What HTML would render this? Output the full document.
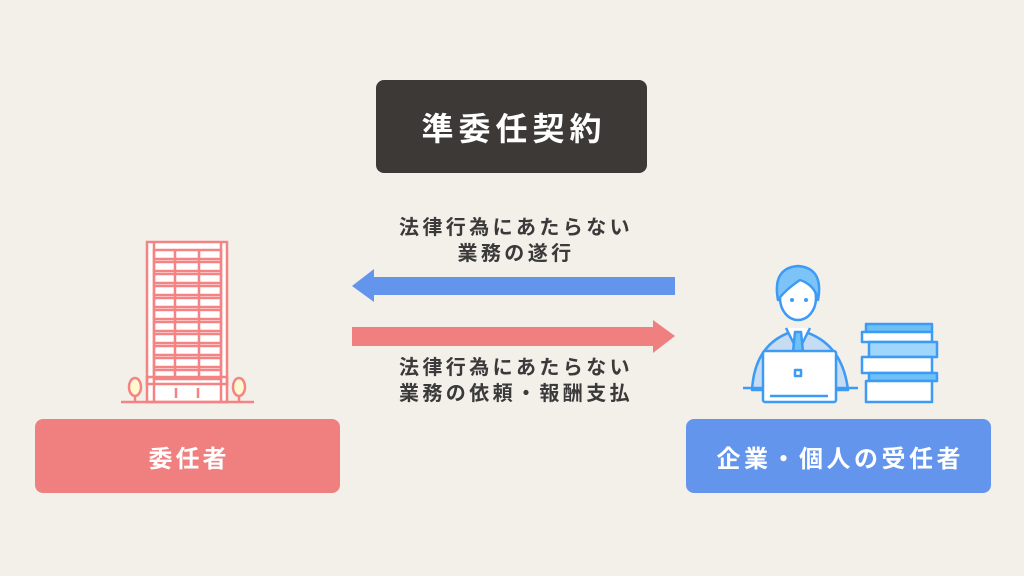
<!DOCTYPE html>
<html><head><meta charset="utf-8"><style>
body{margin:0;width:1024px;height:576px;background:#f3efe9;position:relative;overflow:hidden;font-family:"Liberation Sans","Noto Sans CJK JP",sans-serif;}
.b{position:absolute;display:flex;align-items:center;justify-content:center;color:#fff;font-weight:bold;border-radius:8px;}
.t{position:absolute;width:400px;text-align:center;color:#3a3a3a;font-weight:bold;font-size:20px;line-height:26px;letter-spacing:3.4px;}
</style></head><body>
<div class="b" style="left:376px;top:80px;width:271px;height:93px;background:#3d3936;font-size:32px;letter-spacing:5px;text-indent:5px;">準委任契約</div>
<div class="b" style="left:35px;top:419px;width:305px;height:74px;background:#f08080;font-size:24px;letter-spacing:3px;text-indent:3px;">委任者</div>
<div class="b" style="left:686px;top:419px;width:305px;height:74px;background:#6495ed;font-size:24px;letter-spacing:3.5px;text-indent:3.5px;">企業・個人の受任者</div>
<div class="t" style="left:316px;top:215px;">法律行為にあたらない<br>業務の遂行</div>
<div class="t" style="left:316px;top:355px;">法律行為にあたらない<br>業務の依頼・報酬支払</div>
<svg width="1024" height="576" style="position:absolute;left:0;top:0">
<polygon points="352,286 374,269 374,277 675,277 675,295 374,295 374,302" fill="#6495ed"/>
<polygon points="675,336 653,320 653,327 352,327 352,346 653,346 653,353" fill="#f08080"/>
<g stroke="#f48484" stroke-width="2.5" fill="none">
<rect x="147" y="242" width="80" height="160" fill="#fff"/>
<line x1="154" y1="242" x2="154" y2="402"/><line x1="221" y1="242" x2="221" y2="402"/>
<rect x="147" y="377" width="80" height="7"/>
<g id="fl">
<rect x="154" y="250" width="67" height="9"/>
</g>
<use href="#fl" y="12"/><use href="#fl" y="24"/><use href="#fl" y="36"/><use href="#fl" y="48"/><use href="#fl" y="60"/><use href="#fl" y="72"/><use href="#fl" y="84"/><use href="#fl" y="96"/><use href="#fl" y="108"/><use href="#fl" y="120"/>
<line x1="175" y1="250" x2="175" y2="377"/><line x1="199" y1="250" x2="199" y2="377"/>
<line x1="176" y1="388" x2="176" y2="398"/><line x1="198" y1="388" x2="198" y2="398"/>
<line x1="121" y1="402" x2="254" y2="402"/>
<ellipse cx="135" cy="387" rx="6" ry="9" fill="#fff8d0"/><line x1="135" y1="396" x2="135" y2="402"/>
<ellipse cx="239" cy="387" rx="6" ry="9" fill="#fff8d0"/><line x1="239" y1="396" x2="239" y2="402"/>
</g>
<g stroke="#3d9bf5" stroke-width="2.5" fill="#fff" stroke-linejoin="round">
<path d="M752,390 Q755,340 798,330 Q842,340 848,390 Z" fill="#c6dcf3"/>
<path d="M786,328 L798,352 L810,328" fill="#fff"/>
<path d="M795,332 L801,332 L803,352 L793,352 Z" fill="#6ec1f5"/>
<ellipse cx="798" cy="298" rx="18" ry="22"/>
<path d="M778,300 Q772,268 798,266 Q824,268 818,300 Q815,285 800,280 Q785,290 778,300Z" fill="#7cc4f8"/>
<line x1="743" y1="388" x2="858" y2="388"/>
<rect x="763" y="351" width="73" height="51" rx="2"/>
<rect x="795" y="370" width="6" height="6" fill="none"/>
<line x1="770" y1="396" x2="828" y2="396"/>
<rect x="866" y="324" width="66" height="8" fill="#6ec1f5"/>
<rect x="862" y="332" width="70" height="10"/>
<rect x="869" y="342" width="68" height="15" fill="#9fd6fb"/>
<rect x="862" y="357" width="70" height="16"/>
<rect x="869" y="373" width="68" height="8" fill="#6ec1f5"/>
<rect x="866" y="381" width="66" height="21"/>
</g>
<circle cx="792" cy="300" r="2" fill="#3d9bf5"/><circle cx="806" cy="300" r="2" fill="#3d9bf5"/>
</svg>
</body></html>
